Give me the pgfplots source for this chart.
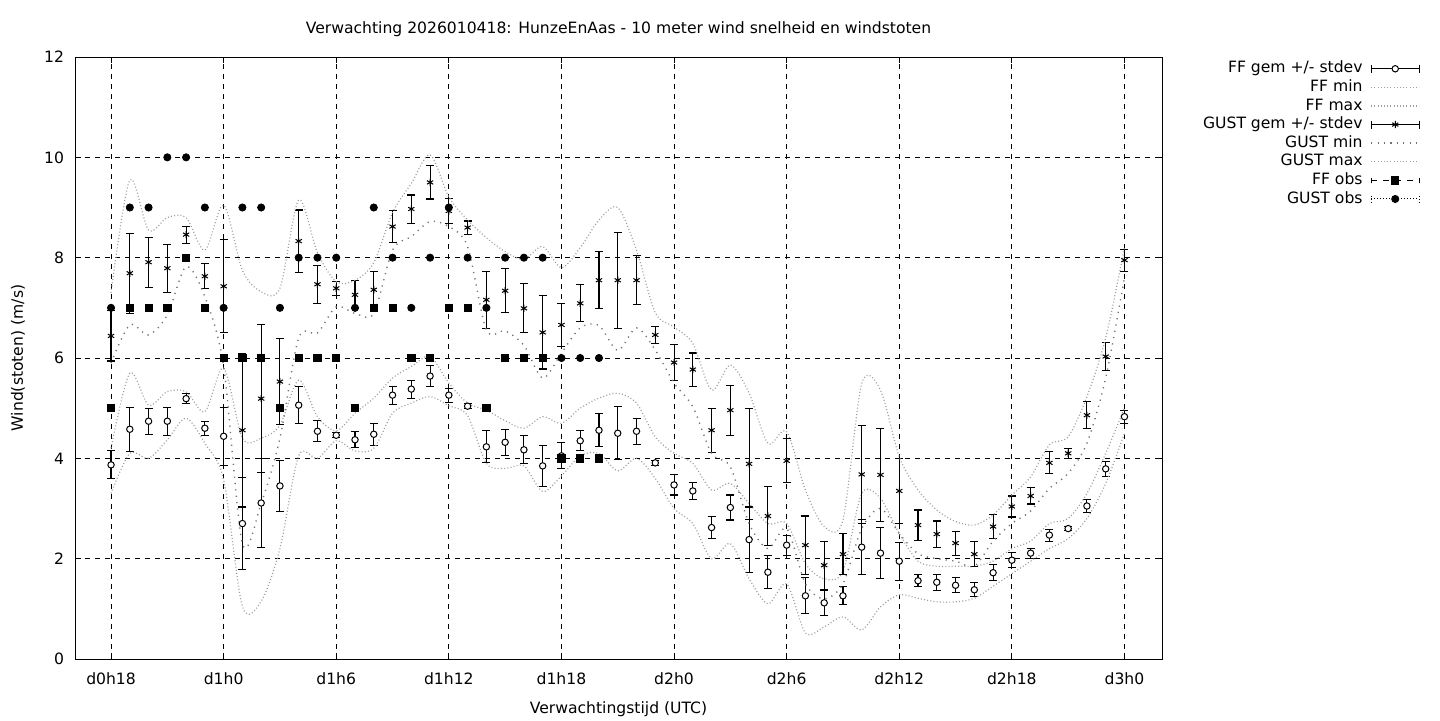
\documentclass[border=0pt]{standalone}
\usepackage{fontspec}
\setmainfont{DejaVu Sans}
\usepackage{pgfplots}
\usepackage{pgfplotstable}
\pgfplotsset{compat=1.18}
\definecolor{ltgray}{gray}{0.62}
\definecolor{dkgray}{gray}{0.45}

\pgfplotstableread{
h ffm ffs gm gs ffmin ffmax gmin gmax
0 3.87 0.28 6.44 0.50 3.30 4.20 5.90 7.30
1 4.58 0.44 7.69 0.80 4.10 5.70 6.66 9.55
2 4.74 0.26 7.91 0.50 4.00 5.06 6.46 8.55
3 4.74 0.28 7.79 0.48 4.37 5.33 6.86 8.80
4 5.19 0.10 8.46 0.17 4.80 5.33 7.82 8.80
5 4.60 0.14 7.63 0.25 4.30 4.93 7.22 8.15
6 4.44 0.58 7.43 0.93 3.57 5.80 5.83 9.05
7 2.70 0.92 4.56 1.53 1.05 4.40 2.30 7.75
8 3.11 0.89 5.19 1.47 1.15 4.40 3.10 7.32
9 3.45 0.51 5.53 0.86 2.20 4.66 4.40 7.39
10 5.06 0.37 8.33 0.62 4.05 5.56 6.40 9.15
11 4.54 0.21 7.47 0.38 4.00 4.83 6.50 8.10
12 4.46 0.05 7.39 0.14 4.35 4.55 7.02 7.52
13 4.37 0.16 7.26 0.28 4.15 4.90 6.89 7.55
14 4.48 0.22 7.36 0.37 4.20 5.20 6.89 7.90
15 5.26 0.18 8.62 0.32 4.90 5.60 8.15 8.90
16 5.38 0.18 8.97 0.28 5.10 5.83 8.42 9.48
17 5.64 0.21 9.50 0.33 5.23 6.03 8.72 10.05
18 5.26 0.14 8.93 0.25 5.05 5.50 8.62 9.21
19 5.04 0.05 8.60 0.13 4.85 5.10 8.22 8.75
20 4.23 0.32 7.16 0.57 3.90 4.96 6.56 8.40
21 4.32 0.26 7.34 0.44 3.80 4.75 6.54 8.12
22 4.17 0.28 6.99 0.49 3.85 4.60 6.25 7.97
23 3.85 0.41 6.51 0.73 3.34 4.83 5.60 8.22
24 4.05 0.26 6.66 0.43 3.65 4.70 6.10 7.80
25 4.35 0.20 7.09 0.37 4.05 5.00 6.60 8.20
26 4.56 0.33 7.55 0.57 4.10 5.20 6.65 8.75
27 4.50 0.53 7.55 0.96 3.75 5.30 6.15 9.00
28 4.54 0.26 7.55 0.49 4.00 5.10 6.60 8.15
29 3.91 0.05 6.46 0.17 3.60 4.43 6.16 6.90
30 3.47 0.20 5.91 0.36 3.00 4.10 5.50 6.62
31 3.35 0.17 5.77 0.33 2.70 3.90 5.03 6.29
32 2.62 0.22 4.56 0.44 2.00 3.37 4.10 5.36
33 3.02 0.25 4.96 0.50 2.30 3.50 3.83 5.86
34 2.38 0.65 3.89 1.11 1.60 3.10 2.70 5.30
35 1.73 0.33 2.85 0.58 1.10 2.70 2.20 4.30
36 2.27 0.20 3.95 0.44 1.50 2.70 2.60 4.53
37 1.26 0.36 2.27 0.58 0.52 1.90 1.50 3.37
38 1.12 0.25 1.87 0.48 0.64 1.60 1.20 2.64
39 1.26 0.18 2.09 0.41 0.84 1.75 1.50 2.77
40 2.23 0.55 3.68 0.97 0.58 3.30 2.60 5.49
41 2.11 0.51 3.67 0.93 1.04 3.20 3.00 5.36
42 1.95 0.38 3.35 0.64 1.28 2.50 2.50 4.03
43 1.56 0.12 2.67 0.30 1.21 1.95 2.10 3.37
44 1.53 0.16 2.49 0.26 1.14 1.85 2.00 2.97
45 1.47 0.15 2.31 0.24 1.14 1.85 1.95 2.74
46 1.38 0.14 2.09 0.25 1.21 1.85 1.85 2.67
47 1.72 0.16 2.64 0.24 1.45 1.95 2.35 2.87
48 1.97 0.15 3.04 0.21 1.70 2.20 2.70 3.27
49 2.11 0.10 3.25 0.16 1.95 2.35 2.95 3.63
50 2.47 0.12 3.91 0.22 2.20 2.70 3.40 4.27
51 2.60 0.04 4.10 0.10 2.40 2.80 3.70 4.43
52 3.05 0.13 4.86 0.27 2.80 3.30 4.30 5.23
53 3.79 0.15 6.03 0.28 3.50 4.10 5.60 6.40
54 4.83 0.13 7.95 0.22 4.50 5.00 7.60 8.20
}\fc

\pgfplotstableread{
h ffo go
0 5 7
1 7 9
2 7 9
3 7 10
4 8 10
5 7 9
6 6 7
7 6 9
8 6 9
9 5 7
10 6 8
11 6 8
12 6 8
13 5 7
14 7 9
15 7 8
16 6 7
17 6 8
18 7 9
19 7 8
20 5 7
21 6 8
22 6 8
23 6 8
24 4 6
25 4 6
26 4 6
}\obs

\begin{document}
\begin{tikzpicture}[font=\fontsize{7.8}{9.4}\selectfont]
\useasboundingbox (0,0) rectangle (720pt,360pt);
\begin{axis}[
  at={(37.5pt,30.5pt)}, anchor=south west,
  scale only axis, width=543.5pt, height=301pt,
  xmin=-1.92, xmax=56, ymin=0, ymax=12,
  xtick={0,6,...,54},
  xticklabels={d0h18,d1h0,d1h6,d1h12,d1h18,d2h0,d2h6,d2h12,d2h18,d3h0},
  ytick={0,2,...,12},
  grid=major,
  major grid style={black, line width=0.5pt, dash pattern=on 2.5pt off 2.5pt},
  axis line style={line width=0.5pt},
  tick align=inside, major tick length=3pt,
  tick style={black, line width=0.5pt},
  /pgf/number format/assume math mode=true,
  yticklabel style={xshift=-2pt},
  xticklabel style={yshift=-3.4pt},
  every axis title shift=0pt,
  title={Verwachting 2026010418: HunzeEnAas - 10 meter wind snelheid en windstoten},
  title style={at={(axis description cs:0.5,1.0465)}, anchor=center},
  xlabel={Verwachtingstijd (UTC)},
  xlabel style={at={(axis description cs:0.5,-0.083)}, anchor=center},
  ylabel={Wind(stoten) (m/s)},
  ylabel style={at={(axis description cs:-0.0524,0.5)}, anchor=center},
  legend plot pos=right,
  legend cell align=right,
  legend style={draw=none, fill=none, at={(axis description cs:1.2373,0.9934)}, anchor=north east,
    inner sep=0pt, outer sep=0pt, row sep=1.5pt, column sep=4pt,
    nodes={inner sep=0pt, text height=6pt, text depth=1.8pt}},
]
% FF gem +/- stdev
\addplot[black, only marks, mark=*, mark size=1.6pt,
  mark options={fill=white, draw=black, line width=0.5pt},
  error bars/.cd, y dir=both, y explicit,
  error bar style={line width=0.55pt, black},
  error mark options={rotate=90, mark size=2pt, line width=0.55pt, black},
  /pgfplots/legend image code/.code={
    \draw[black, line width=0.55pt] (0pt,0pt) -- (24pt,0pt);
    \draw[black, line width=0.55pt] (0pt,-2pt) -- (0pt,2pt);
    \draw[black, line width=0.55pt] (24pt,-2pt) -- (24pt,2pt);
    \draw[black, fill=white, line width=0.5pt] (12pt,0pt) circle (1.6pt);}
] table[x=h, y=ffm, y error=ffs] {\fc};
\addlegendentry{FF gem +/- stdev}
% FF min
\addplot[ltgray, line width=0.6pt, dash pattern=on 0.5pt off 1.1pt, smooth, tension=0.5, mark=none,
  legend image code/.code={\draw[ltgray, line width=0.6pt, dash pattern=on 0.5pt off 1.1pt] (0pt,0pt) -- (24pt,0pt);}
] table[x=h, y=ffmin] {\fc};
\addlegendentry{FF min}
% FF max
\addplot[ltgray, line width=0.6pt, dash pattern=on 0.5pt off 1.1pt, smooth, tension=0.5, mark=none,
  legend image code/.code={\draw[ltgray, line width=0.6pt, dash pattern=on 0.5pt off 1.1pt] (0pt,0pt) -- (24pt,0pt);}
] table[x=h, y=ffmax] {\fc};
\addlegendentry{FF max}
% GUST gem +/- stdev
\addplot[black, only marks, mark=asterisk, mark size=1.8pt,
  mark options={black, line width=0.5pt},
  error bars/.cd, y dir=both, y explicit,
  error bar style={line width=0.55pt, black},
  error mark options={rotate=90, mark size=2pt, line width=0.55pt, black},
  /pgfplots/legend image code/.code={
    \draw[black, line width=0.55pt] (0pt,0pt) -- (24pt,0pt);
    \draw[black, line width=0.55pt] (0pt,-2pt) -- (0pt,2pt);
    \draw[black, line width=0.55pt] (24pt,-2pt) -- (24pt,2pt);
    \draw[black, line width=0.5pt, mark=asterisk, mark size=1.8pt] plot coordinates {(12pt,0pt)};}
] table[x=h, y=gm, y error=gs] {\fc};
\addlegendentry{GUST gem +/- stdev}
% GUST min
\addplot[dkgray, line width=0.7pt, dash pattern=on 0.6pt off 2.6pt, smooth, tension=0.5, mark=none,
  legend image code/.code={\draw[dkgray, line width=0.7pt, dash pattern=on 0.6pt off 2.6pt] (0pt,0pt) -- (24pt,0pt);}
] table[x=h, y=gmin] {\fc};
\addlegendentry{GUST min}
% GUST max
\addplot[ltgray, line width=0.6pt, dash pattern=on 0.5pt off 1.1pt, smooth, tension=0.5, mark=none,
  legend image code/.code={\draw[ltgray, line width=0.6pt, dash pattern=on 0.5pt off 1.1pt] (0pt,0pt) -- (24pt,0pt);}
] table[x=h, y=gmax] {\fc};
\addlegendentry{GUST max}
% FF obs
\addplot[black, only marks, mark=square*, mark size=1.8pt,
  legend image code/.code={
    \draw[black, line width=0.5pt, dash pattern=on 3pt off 3pt] (0pt,0pt) -- (24pt,0pt);
    \draw[black, line width=0.5pt] (0pt,-1.5pt) -- (0pt,1pt);
    \draw[black, line width=0.5pt] (24pt,-1.5pt) -- (24pt,1pt);
    \fill[black] (10.2pt,-1.8pt) rectangle (13.8pt,1.8pt);}
] table[x=h, y=ffo] {\obs};
\addlegendentry{FF obs}
% GUST obs
\addplot[black, only marks, mark=*, mark size=1.8pt,
  legend image code/.code={
    \draw[black, line width=0.5pt, dash pattern=on 0.5pt off 1pt] (0pt,0pt) -- (24pt,0pt);
    \draw[black, line width=0.5pt, dash pattern=on 0.5pt off 1pt] (0pt,-2pt) -- (0pt,2pt);
    \draw[black, line width=0.5pt, dash pattern=on 0.5pt off 1pt] (24pt,-2pt) -- (24pt,2pt);
    \fill[black] (12pt,0pt) circle (1.8pt);}
] table[x=h, y=go] {\obs};
\addlegendentry{GUST obs}
\end{axis}
\end{tikzpicture}
\end{document}
